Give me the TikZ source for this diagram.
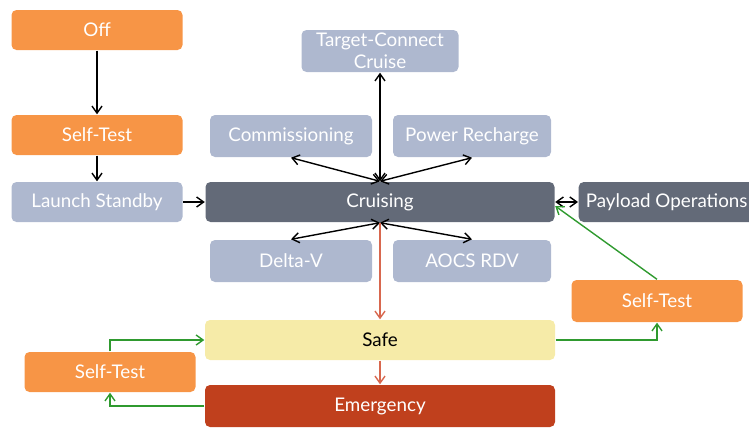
\documentclass[tikz,border=0pt]{standalone}
\usepackage{fontspec}
\setmainfont{Lato}
\usetikzlibrary{positioning, arrows.meta}
\definecolor{modeorange}{HTML}{F79546}
\definecolor{modegrey}{HTML}{AEB8CF}
\definecolor{modedark}{HTML}{636A78}
\definecolor{modesafe}{HTML}{F6EBA8}
\definecolor{modeemerg}{HTML}{C0401D}
\definecolor{linkred}{HTML}{D8674E}
\definecolor{linkgreen}{HTML}{2F9A2F}

\begin{document}
\begin{tikzpicture}[x=0.5pt, y=-0.5pt, >={Straight Barb[length=3.5pt, width=5pt]}, line width=0.7pt,
  mode/.style={rectangle, rounded corners=2.5pt, minimum height=20pt, inner sep=1pt, text=white, align=center, font=\fontsize{9.4}{11}\selectfont},
  orangemode/.style={mode, fill=modeorange, minimum width=85.5pt},
  greymode/.style={mode, fill=modegrey, minimum width=81pt, minimum height=21pt},
  darkmode/.style={mode, fill=modedark},
  link/.style={->, black},
  redlink/.style={->, linkred},
  greenlink/.style={->, linkgreen}]
\useasboundingbox (0,0) rectangle (749,428);
\node (off) [orangemode] at (97,30) {Off};
\node (selftestA) [orangemode] at (97,135) {Self-Test};
\node (standby) [greymode, fill=modegrey, minimum width=85.5pt, minimum height=20pt] at (97,202) {Launch Standby};
\node (cruising) [darkmode, minimum width=174.5pt] at (380,202) {Cruising};
\node (target) [greymode, minimum width=78.5pt] at (380,51) {Target-Connect\\Cruise};
\node (commissioning) [greymode] at (291,136) {Commissioning};
\node (recharge) [greymode, minimum width=79pt] at (472,136) {Power Recharge};
\node (payload) [darkmode, minimum width=88pt, anchor=west] at (578,202) {Payload Operations};
\node (deltav) [greymode] at (291,261) {Delta-V};
\node (aocs) [greymode, minimum width=79pt] at (472,261) {AOCS RDV};
\node (selftestB) [orangemode, minimum height=21pt] at (657,301) {Self-Test};
\node (safe) [mode, fill=modesafe, text=black, minimum width=175pt] at (380,340) {Safe};
\node (selftestC) [orangemode] at (110,372) {Self-Test};
\node (emergency) [mode, fill=modeemerg, minimum width=175pt, minimum height=21pt] at (380,406) {Emergency};

\draw[link] (off) -- (selftestA);
\draw[link] (selftestA) -- (standby);
\draw[link] (standby) -- (cruising);
\draw[link, <->] (cruising.north) -- (target);
\draw[link, <->] (cruising.north) -- (commissioning.south);
\draw[link, <->] (cruising.north) -- (recharge.south);
\draw[link, <->] (cruising.south) -- (deltav.north);
\draw[link, <->] (cruising.south) -- (aocs.north);
\draw[link, <->] (cruising) -- (payload);
\draw[redlink] (cruising) -- (safe);
\draw[redlink] (safe) -- (emergency);
\draw[greenlink] (safe.east) -| (selftestB.south);
\draw[greenlink] (selftestB.north) -- ([yshift=-2pt]cruising.east);
\draw[greenlink] (emergency.west) -| (selftestC.south);
\draw[greenlink] (selftestC.north) |- (safe.west);
\end{tikzpicture}
\end{document}
